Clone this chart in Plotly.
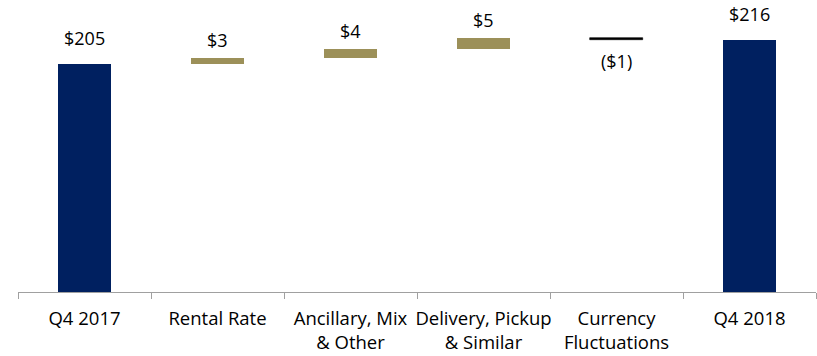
import plotly.graph_objects as go

categories = ["Q4 2017", "Rental Rate", "Ancillary, Mix<br>& Other",
              "Delivery, Pickup<br>& Similar", "Currency<br>Fluctuations", "Q4 2018"]
kinds = ["total", "delta", "delta", "delta", "delta", "total"]
values = [205, 3, 4, 5, -1, 216]
labels = ["$205", "$3", "$4", "$5", "($1)", "$216"]

NAVY = "#002060"
GOLD = "#9C9059"
BLACK = "#000000"

bases, heights, colors, tops, bottoms, lws = [], [], [], [], [], []
running = 0
for k, v in zip(kinds, values):
    if k == "total":
        base, h = 0, v
        running = v
        col, lw = NAVY, 0
    else:
        if v >= 0:
            base, h = running, v
            col, lw = GOLD, 0
        else:
            base, h = running + v, -v
            col, lw = BLACK, 0.6
        running += v
    bases.append(base)
    heights.append(h)
    colors.append(col)
    lws.append(lw)
    tops.append(base + h)
    bottoms.append(base)

fig = go.Figure(go.Bar(x=categories, y=heights, base=bases,
                       marker=dict(color=colors, line=dict(color=colors, width=lws)),
                       width=0.405, hoverinfo="skip"))

for i, (k, v) in enumerate(zip(kinds, values)):
    if k == "total":
        y, shift = tops[i], 26
    elif v >= 0:
        y, shift = tops[i], 18
    else:
        y, shift = bottoms[i], -21
    fig.add_annotation(x=categories[i], y=y, text=labels[i], showarrow=False,
                       yanchor="middle", yshift=shift,
                       font=dict(family="Open Sans", size=18, color="#000000"))

fig.update_layout(
    width=817, height=356,
    margin=dict(l=18, r=1, t=10, b=64),
    paper_bgcolor="white", plot_bgcolor="white",
    showlegend=False,
    bargap=0,
    font=dict(family="Open Sans", size=18, color="#000000"),
)
fig.update_xaxes(
    type="category",
    categoryorder="array", categoryarray=categories,
    range=[-0.5, len(categories) - 0.5],
    showline=True, linecolor="#a0a0a0", linewidth=1,
    ticks="outside", ticklen=6, tickcolor="#a0a0a0", tickwidth=1,
    tickson="boundaries", ticklabelstandoff=10, tickangle=0,
    showgrid=False, zeroline=False,
    tickfont=dict(family="Open Sans", size=18.5, color="#000000"),
)
fig.update_yaxes(range=[100, 230], visible=False, showgrid=False, zeroline=False)

fig.write_html("out.html")
